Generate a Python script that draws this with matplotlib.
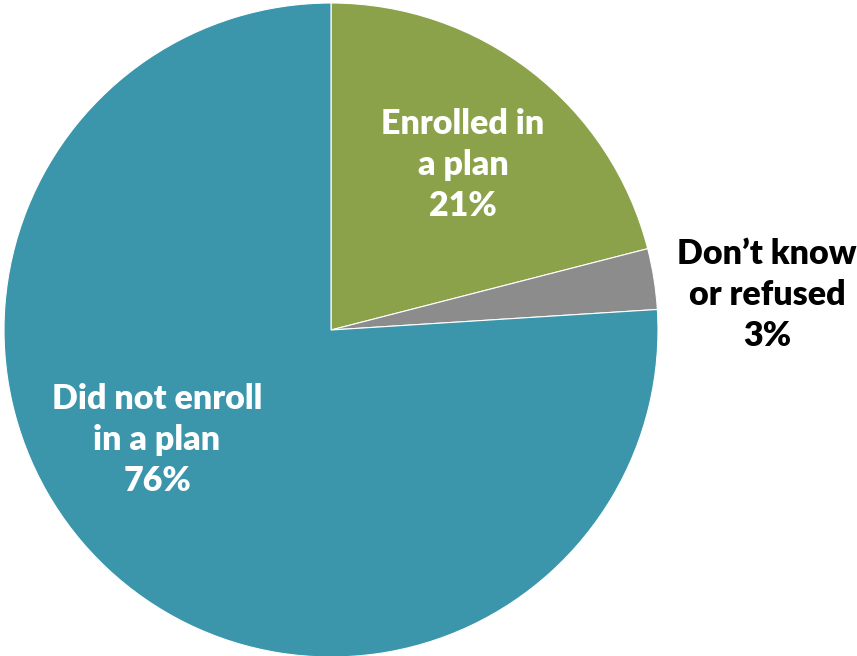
import matplotlib
matplotlib.use('Agg')
import matplotlib.pyplot as plt

# Plan enrollment shares
labels = ['Enrolled in\na plan', 'Don\u2019t know\nor refused', 'Did not enroll\nin a plan']
shares = [21, 3, 76]
colors = ['#8BA24B', '#8C8C8C', '#3B96AC']

plt.rcParams['font.family'] = ['Lato', 'DejaVu Sans']

fig = plt.figure(figsize=(8.57, 6.56), dpi=100)
ax = fig.add_axes([4 / 857, -1 / 656, 654 / 857, 654 / 656])

ax.pie(shares, colors=colors, startangle=90, counterclock=False,
       radius=1.0, wedgeprops=dict(edgecolor='white', linewidth=0.8))
ax.set_xlim(-1, 1)
ax.set_ylim(-1, 1)
ax.set_aspect('equal')
ax.axis('off')

# label spots in pie units, text color per slice
label_pos = [(0.404, 0.505), (1.333, 0.107), (-0.532, -0.336)]
label_col = ['white', 'black', 'white']
for lab, val, (x, y), c in zip(labels, shares, label_pos, label_col):
    ax.text(x, y, f'{lab}\n{val}%', ha='center', va='center', color=c,
            fontsize=24.5, fontweight='heavy', linespacing=1.36, clip_on=False)

fig.savefig('out.png', dpi=100)
